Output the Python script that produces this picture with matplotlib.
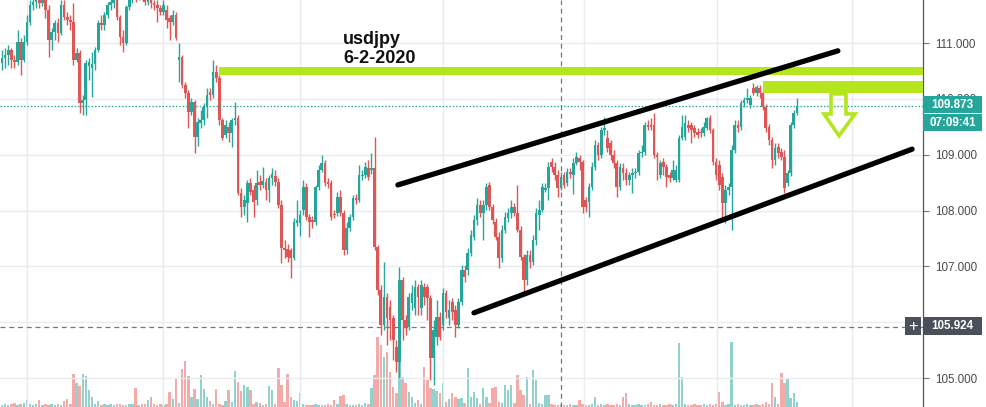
import matplotlib
matplotlib.use("Agg")
import matplotlib.pyplot as plt
import numpy as np
from matplotlib.patches import Polygon, Rectangle

# ---------------- data (USDJPY candles) ----------------
opens = [110.64, 110.73, 110.79, 110.88, 110.70, 110.66, 111.02, 110.70, 111.02, 111.38,
         111.68, 111.73, 111.77, 111.72, 111.81, 111.59, 111.05, 111.20, 111.36, 111.18,
         111.68, 111.47, 111.41, 111.38, 110.70, 110.82, 109.93, 109.98, 110.59, 110.55,
         110.63, 110.88, 111.36, 111.32, 111.50, 111.68, 111.72, 111.77, 111.47, 111.11,
         111.00, 111.64, 111.77, 111.86, 111.82, 111.91, 111.86, 111.73, 111.81, 111.72,
         111.68, 111.63, 111.56, 111.59, 111.45, 111.38, 111.50, 110.70, 110.75, 110.25,
         110.11, 109.77, 109.94, 109.32, 109.57, 109.62, 109.85, 110.12, 110.07, 110.48,
         110.37, 109.62, 109.35, 109.50, 109.39, 109.62, 109.66, 108.32, 108.07, 108.14,
         108.49, 108.37, 108.19, 108.51, 108.46, 108.51, 108.37, 108.58, 108.62, 108.51,
         108.10, 107.33, 107.31, 107.29, 107.15, 107.78, 107.78, 108.01, 108.42, 107.89,
         107.83, 107.80, 108.42, 108.73, 108.85, 108.51, 108.49, 107.94, 107.96, 108.24,
         107.96, 107.29, 107.69, 107.89, 108.23, 108.19, 108.62, 108.64, 108.76, 108.73,
         108.76, 107.35, 106.58, 105.95, 106.45, 106.27, 106.08, 105.56, 105.29, 106.76,
         106.04, 105.92, 106.35, 106.26, 106.63, 106.26, 106.63, 106.63, 106.43, 105.36,
         105.74, 106.10, 105.95, 106.52, 106.08, 106.36, 106.22, 105.95, 106.36, 106.94,
         106.94, 107.24, 107.53, 107.83, 108.10, 107.96, 108.10, 108.46, 108.07, 107.80,
         107.53, 107.15, 107.65, 107.87, 107.96, 108.07, 107.96, 107.65, 107.17, 106.76,
         107.21, 107.08, 107.47, 107.92, 108.01, 108.37, 108.40, 108.87, 108.78, 108.64,
         108.40, 108.64, 108.49, 108.69, 108.64, 108.85, 108.94, 108.87, 108.19, 108.15,
         108.42, 108.78, 109.17, 109.00, 109.44, 109.30, 109.21, 109.00, 108.85, 108.42,
         108.76, 108.67, 108.55, 108.64, 108.67, 108.69, 109.03, 109.05, 109.53, 109.53,
         109.53, 109.00, 108.64, 108.87, 108.78, 108.64, 108.58, 108.55, 108.55, 109.30,
         109.32, 109.53, 109.53, 109.48, 109.41, 109.41, 109.39, 109.48, 109.66, 109.44,
         108.87, 108.82, 108.60, 108.14, 108.37, 108.42, 109.09, 109.53, 109.50, 109.93,
         109.98, 109.89, 110.20, 110.11, 110.20, 110.11, 109.85, 109.50, 109.26, 108.91,
         109.14, 109.05, 108.96, 108.49, 108.67, 109.53, 109.75]

closes = [110.73, 110.79, 110.88, 110.70, 110.66, 111.02, 110.70, 111.02, 111.38, 111.68,
          111.73, 111.77, 111.72, 111.81, 111.59, 111.05, 111.20, 111.36, 111.18, 111.68,
          111.47, 111.41, 111.38, 110.70, 110.82, 109.93, 109.98, 110.64, 110.66, 110.63,
          110.88, 111.36, 111.32, 111.50, 111.68, 111.73, 111.77, 111.47, 111.11, 111.00,
          111.64, 111.77, 111.86, 111.82, 111.91, 111.86, 111.73, 111.81, 111.72, 111.68,
          111.63, 111.56, 111.68, 111.41, 111.38, 111.50, 111.09, 110.75, 110.25, 110.11,
          109.77, 109.94, 109.32, 109.59, 109.62, 109.85, 110.07, 110.07, 110.48, 110.37,
          109.62, 109.30, 109.53, 109.39, 109.62, 109.66, 108.32, 108.07, 108.19, 108.49,
          108.33, 108.15, 108.49, 108.46, 108.53, 108.37, 108.58, 108.66, 108.51, 108.10,
          107.33, 107.29, 107.17, 107.15, 107.80, 107.83, 107.92, 108.42, 107.89, 107.80,
          107.80, 108.42, 108.73, 108.85, 108.49, 108.48, 107.89, 107.92, 108.24, 107.96,
          107.29, 107.69, 107.89, 108.23, 108.19, 108.64, 108.64, 108.78, 108.60, 108.76,
          107.35, 106.58, 105.95, 106.45, 106.08, 106.04, 105.68, 105.29, 106.76, 106.04,
          105.92, 106.45, 106.52, 106.63, 106.45, 106.67, 106.45, 106.43, 105.36, 105.86,
          106.10, 105.74, 106.52, 106.19, 106.22, 106.19, 105.95, 106.36, 106.94, 106.81,
          107.24, 107.56, 107.83, 108.10, 107.96, 108.10, 108.42, 108.07, 107.83, 107.53,
          107.15, 107.65, 107.89, 107.96, 108.07, 107.96, 107.65, 107.17, 106.76, 107.21,
          107.08, 107.47, 107.96, 108.01, 108.42, 108.40, 108.78, 108.78, 108.64, 108.40,
          108.60, 108.46, 108.69, 108.66, 108.85, 108.96, 108.87, 108.07, 108.07, 108.42,
          108.78, 109.17, 109.00, 109.44, 109.48, 109.12, 109.00, 108.85, 108.42, 108.78,
          108.67, 108.55, 108.64, 108.67, 108.69, 109.03, 109.05, 109.53, 109.50, 109.50,
          109.00, 108.96, 108.85, 108.78, 108.60, 108.58, 108.73, 108.73, 109.30, 109.50,
          109.57, 109.48, 109.44, 109.39, 109.35, 109.39, 109.50, 109.66, 109.44, 108.87,
          108.64, 108.46, 108.14, 108.37, 108.42, 109.09, 109.53, 109.48, 109.93, 109.98,
          110.02, 110.02, 110.11, 110.21, 110.11, 109.85, 109.48, 109.26, 108.91, 109.12,
          109.03, 108.96, 108.40, 108.67, 109.53, 109.75, 109.873]

highs = [110.88, 110.91, 110.96, 110.91, 110.79, 111.23, 111.09, 111.14, 111.50, 111.77,
         111.86, 111.91, 111.86, 111.91, 111.86, 111.68, 111.27, 111.41, 111.45, 111.77,
         111.77, 111.56, 111.50, 111.72, 110.91, 110.88, 110.07, 110.70, 110.73, 110.84,
         110.93, 111.41, 111.50, 111.56, 111.73, 111.82, 111.86, 111.82, 111.50, 111.23,
         111.68, 111.86, 111.95, 111.98, 111.98, 111.98, 111.91, 111.88, 111.86, 111.77,
         111.77, 111.68, 111.77, 111.68, 111.50, 111.59, 111.56, 111.00, 110.79, 110.30,
         110.16, 110.02, 109.98, 109.66, 109.80, 109.93, 110.20, 110.20, 110.70, 110.61,
         110.43, 109.66, 109.62, 109.59, 109.66, 109.94, 109.71, 108.40, 108.28, 108.55,
         108.58, 108.46, 108.73, 108.64, 108.78, 108.58, 108.64, 108.76, 108.73, 108.58,
         108.19, 107.47, 107.40, 107.33, 107.87, 108.19, 108.01, 108.55, 108.49, 107.94,
         107.90, 108.46, 108.82, 109.00, 108.91, 108.58, 108.55, 108.01, 108.33, 108.37,
         108.01, 107.80, 107.94, 108.28, 108.30, 108.82, 108.73, 108.87, 108.91, 109.03,
         109.32, 107.38, 106.67, 107.08, 106.52, 106.40, 106.13, 105.68, 106.99, 106.81,
         106.13, 106.52, 106.67, 106.76, 106.69, 106.76, 106.70, 106.69, 106.49, 106.04,
         106.40, 106.19, 106.61, 106.58, 106.40, 106.43, 106.31, 106.43, 107.03, 107.03,
         107.33, 107.65, 107.92, 108.23, 108.19, 108.19, 108.49, 108.51, 108.12, 107.87,
         107.62, 107.74, 107.98, 108.05, 108.19, 108.14, 108.46, 107.72, 107.22, 107.29,
         107.29, 107.56, 108.05, 108.19, 108.49, 108.49, 108.87, 108.94, 108.87, 108.73,
         108.69, 108.69, 108.76, 108.76, 108.94, 109.05, 109.00, 108.91, 108.24, 108.49,
         108.87, 109.26, 109.23, 109.50, 109.68, 109.44, 109.26, 109.09, 108.91, 108.85,
         108.85, 108.76, 108.69, 108.76, 108.76, 109.09, 109.17, 109.59, 109.62, 109.66,
         109.75, 109.05, 108.91, 108.94, 108.83, 108.69, 108.91, 108.82, 109.35, 109.71,
         109.71, 109.62, 109.59, 109.53, 109.48, 109.48, 109.59, 109.68, 109.71, 109.48,
         108.94, 108.91, 108.67, 108.46, 108.49, 109.17, 109.62, 109.62, 109.98, 110.03,
         110.20, 110.07, 110.29, 110.25, 110.25, 110.16, 109.91, 109.55, 109.32, 109.21,
         109.21, 109.12, 109.09, 108.73, 109.59, 109.80, 110.02]

lows = [110.52, 110.55, 110.61, 110.55, 110.55, 110.61, 110.43, 110.66, 110.96, 111.32,
        111.59, 111.63, 111.63, 111.66, 111.45, 110.75, 110.88, 111.05, 111.02, 111.14,
        111.41, 111.32, 111.23, 110.61, 110.66, 109.75, 109.71, 109.71, 110.34, 110.03,
        110.52, 110.84, 111.23, 111.23, 111.45, 111.59, 111.63, 111.41, 110.96, 110.84,
        110.96, 111.59, 111.72, 111.73, 111.77, 111.77, 111.68, 111.68, 111.63, 111.59,
        111.38, 111.50, 111.50, 111.27, 111.05, 111.32, 111.05, 110.30, 110.20, 110.02,
        109.48, 109.71, 109.03, 109.16, 109.48, 109.53, 109.66, 109.98, 110.02, 110.30,
        109.53, 109.26, 109.30, 109.23, 109.14, 109.53, 108.28, 107.89, 107.92, 107.80,
        108.28, 107.89, 108.10, 108.37, 108.40, 108.19, 108.15, 108.46, 108.44, 108.05,
        107.06, 107.15, 107.08, 106.79, 107.12, 107.72, 107.55, 107.92, 107.83, 107.53,
        107.69, 107.74, 108.37, 108.69, 108.44, 108.40, 107.83, 107.87, 107.90, 107.90,
        107.21, 107.22, 107.63, 107.83, 108.12, 108.15, 108.55, 108.58, 108.55, 108.66,
        107.29, 106.49, 105.77, 105.86, 105.59, 105.68, 105.33, 105.11, 105.00, 105.68,
        105.77, 105.86, 106.22, 106.13, 106.13, 106.13, 106.31, 106.04, 104.97, 104.88,
        105.59, 105.68, 105.86, 106.08, 105.95, 106.04, 105.74, 105.90, 106.31, 106.72,
        106.85, 107.19, 107.47, 107.74, 107.89, 107.47, 108.01, 108.01, 107.76, 107.47,
        106.97, 107.08, 107.60, 107.80, 107.87, 107.90, 107.62, 107.12, 106.52, 106.67,
        106.97, 107.03, 107.38, 107.65, 107.98, 108.33, 108.19, 108.69, 108.55, 108.24,
        108.37, 108.40, 108.44, 108.58, 108.30, 108.82, 108.73, 107.96, 107.98, 107.89,
        108.37, 108.73, 108.91, 108.94, 109.35, 109.05, 108.91, 108.76, 108.24, 108.37,
        108.55, 108.46, 108.46, 108.32, 108.58, 108.64, 108.96, 109.00, 109.44, 109.44,
        108.94, 108.55, 108.58, 108.64, 108.42, 108.51, 108.55, 108.51, 108.51, 109.26,
        109.26, 109.41, 109.21, 109.32, 109.30, 109.32, 109.34, 109.44, 109.39, 108.82,
        108.55, 108.37, 107.89, 107.78, 108.28, 107.65, 109.03, 109.41, 109.44, 109.85,
        109.93, 109.84, 110.07, 110.05, 110.02, 109.80, 109.41, 109.17, 108.76, 108.82,
        108.94, 108.91, 108.32, 108.44, 108.62, 109.48, 109.71]

volumes = [2, 3, 2, 3, 4, 2, 3, 4, 7, 3,
           2, 3, 7, 2, 3, 2, 3, 2, 3, 2,
           6, 8, 3, 33, 24, 21, 33, 31, 17, 10,
           3, 6, 2, 3, 2, 3, 2, 3, 3, 2,
           2, 3, 3, 19, 2, 3, 3, 7, 10, 3,
           2, 3, 2, 3, 15, 8, 29, 4, 38, 46,
           31, 10, 18, 8, 32, 18, 10, 6, 3, 18,
           3, 2, 6, 17, 5, 36, 25, 16, 22, 20,
           17, 3, 5, 4, 2, 3, 21, 17, 3, 39,
           22, 5, 33, 10, 7, 6, 14, 3, 2, 2,
           2, 3, 2, 2, 2, 3, 2, 7, 3, 11,
           12, 3, 2, 2, 2, 3, 2, 4, 3, 19,
           32, 70, 62, 50, 55, 35, 20, 14, 47, 30,
           24, 15, 10, 4, 7, 3, 40, 27, 19, 18,
           16, 14, 24, 5, 8, 14, 10, 8, 9, 4,
           39, 10, 15, 9, 3, 19, 10, 4, 19, 20,
           5, 4, 22, 17, 22, 4, 32, 17, 12, 30,
           3, 37, 27, 4, 3, 12, 12, 3, 2, 2,
           3, 2, 2, 3, 2, 2, 7, 3, 2, 2,
           3, 10, 2, 3, 2, 3, 2, 2, 3, 2,
           10, 14, 3, 2, 2, 3, 2, 2, 3, 5,
           2, 2, 3, 2, 2, 3, 2, 3, 64, 30,
           3, 2, 2, 3, 2, 2, 3, 2, 3, 2,
           3, 15, 5, 2, 3, 65, 2, 3, 2, 2,
           3, 2, 2, 3, 2, 3, 5, 3, 24, 10,
           3, 34, 24, 29, 9, 14, 5]

price_ticks = [105.0, 106.0, 107.0, 108.0, 109.0, 110.0, 111.0]
price_tick_labels = ["105.000", "", "107.000", "108.000", "109.000", "110.000", "111.000"]
time_grid = [9.05, 52.85, 96.97, 143.0, 188.4, 231.3, 274.7]   # session separators (bar index)
last_price = 109.873
countdown = "07:09:41"
cross_price = 105.924
cross_bar = 181.0
title_lines = ["usdjpy", "6-2-2020"]

# drawn annotations (bar index, price)
upper_channel = ([128.5, 270.2], [108.46, 110.86])
lower_channel = ([153.0, 294.1], [106.17, 109.10])
resist_bar_1 = (70.9, 110.43, 110.57)
resist_bar_2 = (246.1, 110.11, 110.32)
arrow_x = [267.99, 272.82, 272.82, 275.72, 270.57, 265.74, 267.99]
arrow_y = [110.09, 110.09, 109.73, 109.73, 109.34, 109.73, 109.73]

# ---------------- styling ----------------
TEAL = "#26a69a"
RED = "#e05555"
VOL_TEAL = "#93d2cc"
VOL_RED = "#f3aaa8"
LIME = "#b5e61d"
GRID = "#e8ecef"
LABEL = "#4a4a4a"

W, H = 987, 407
fig = plt.figure(figsize=(W / 100, H / 100), dpi=100)
fig.patch.set_facecolor("white")
plot_pos = [0, 0, 923 / W, 1]

o = np.array(opens); c = np.array(closes); hi = np.array(highs); lo = np.array(lows)
v = np.array(volumes, dtype=float)
n = len(c)
idx = np.arange(1, n + 1)
xl = (1 - 2 / 3.105, 1 + 921 / 3.105)
up = c >= o

# volume pane (behind)
vax = fig.add_axes(plot_pos)
vax.set_xlim(*xl)
vax.set_ylim(0, H)
vax.axis("off")
vax.bar(idx, v, width=0.78, color=np.where(up, VOL_TEAL, VOL_RED), linewidth=0)

# main price pane
ax = fig.add_axes(plot_pos)
ax.patch.set_alpha(0)
ax.set_xlim(*xl)
ax.set_ylim(111.77 - 0.0179 * H, 111.77)

ax.set_yticks(price_ticks)
ax.set_yticklabels(price_tick_labels)
ax.yaxis.tick_right()
ax.tick_params(axis="y", length=4, width=0.8, color="#777777", pad=5,
               labelsize=8.4, labelcolor=LABEL)
for t in ax.get_yticklabels():
    t.set_fontfamily("Liberation Sans")
ax.set_xticks(time_grid)
ax.tick_params(axis="x", length=0, labelbottom=False)
ax.grid(True, color=GRID, linewidth=1, zorder=0)
ax.set_axisbelow(True)
for s in ["top", "left", "bottom"]:
    ax.spines[s].set_visible(False)
ax.spines["right"].set_color("#555555")
ax.spines["right"].set_linewidth(0.9)

# candles
col = np.where(up, TEAL, RED)
ax.vlines(idx, lo, hi, colors=col, linewidth=1.0, zorder=3)
ax.bar(idx, np.maximum(np.abs(c - o), 0.018), bottom=np.minimum(o, c), width=0.86,
       color=col, linewidth=0, zorder=4)

# price / crosshair lines
ax.axhline(last_price, color=TEAL, linestyle=(0, (1.2, 1.5)), linewidth=0.9, zorder=5)
ax.axhline(cross_price, color="#777777", linestyle=(0, (4, 3)), linewidth=0.9, zorder=2)
ax.axvline(cross_bar, color="#777777", linestyle=(0, (4, 3)), linewidth=0.9, zorder=2)

# drawings
for (x0, y0, y1) in (resist_bar_1, resist_bar_2):
    ax.add_patch(Rectangle((x0, y0), xl[1] - x0, y1 - y0, facecolor=LIME,
                           edgecolor="none", zorder=6))
ax.plot(*upper_channel, color="black", linewidth=3.8, solid_capstyle="round", zorder=7)
ax.plot(*lower_channel, color="black", linewidth=3.8, solid_capstyle="round", zorder=7)
ax.add_patch(Polygon(np.column_stack([arrow_x, arrow_y]), closed=True, fill=False,
                     edgecolor=LIME, linewidth=2.6, joinstyle="miter", zorder=7))


def fx(x):
    return x / W


def fy(y):
    return 1 - y / H


fig.text(fx(343), fy(31), title_lines[0], fontsize=13, fontweight="bold",
         family="Liberation Sans", color="#111111", va="top", ha="left")
fig.text(fx(343), fy(50), title_lines[1], fontsize=13, fontweight="bold",
         family="Liberation Sans", color="#111111", va="top", ha="left")


# right-side price boxes
def box(y_top, y_bot, color, label, x0=923, x1=982, size=8.4, weight="bold"):
    fig.add_artist(Rectangle((fx(x0), fy(y_bot)), fx(x1 - x0), (y_bot - y_top) / H,
                             transform=fig.transFigure, facecolor=color,
                             edgecolor="none", zorder=5))
    fig.text(fx((x0 + x1) / 2), fy((y_top + y_bot) / 2), label, color="white",
             fontsize=size, family="Liberation Sans", fontweight=weight,
             ha="center", va="center", zorder=6)


box(96, 113, TEAL, f"{last_price:.3f}")
box(114, 131, TEAL, countdown)
box(317, 335, "#4a4f59", f"{cross_price:.3f}")
box(317, 335, "#4a4f59", "+", x0=905, x1=921, size=12, weight="normal")

fig.savefig("out.png", dpi=100, facecolor="white")
